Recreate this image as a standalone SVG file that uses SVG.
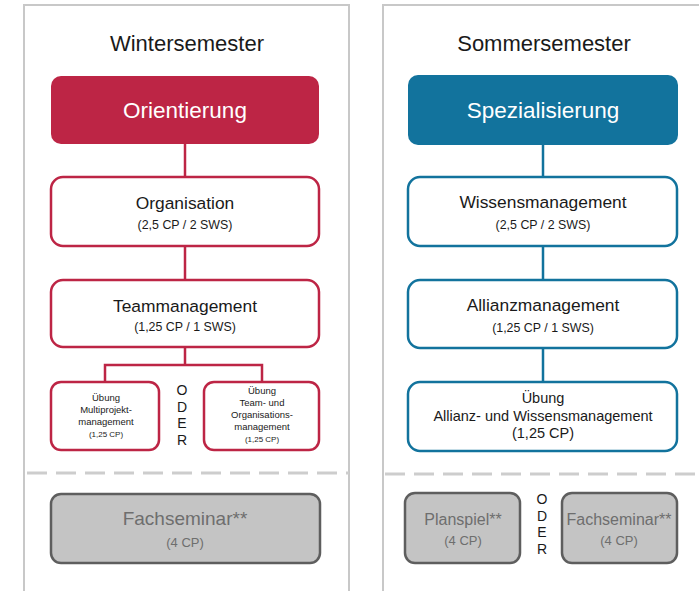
<svg xmlns="http://www.w3.org/2000/svg" width="699" height="591" viewBox="0 0 699 591">
<style>
text{font-family:"Liberation Sans",Arial,sans-serif;text-anchor:middle;fill:#1a1a1a}
.panel{fill:none;stroke:#c8c8c8;stroke-width:2}
.dash{fill:none;stroke:#cdcdcd;stroke-width:3;stroke-dasharray:20 9}
.head{font-size:22px}
.red{fill:#bd2545}
.blue{fill:#12739d}
.hd{fill:#fff;font-size:22.5px}
.rbox{fill:#fff;stroke:#bd2545;stroke-width:2.5}
.bbox{fill:#fff;stroke:#12739d;stroke-width:2.5}
.gbox{fill:#c4c4c4;stroke:#5e5e5e;stroke-width:2.5}
.t1{font-size:17.4px}
.t2{font-size:12.4px}
.sm{font-size:9.5px}
.xs{font-size:8px}
.m{font-size:14.5px}
.od{font-size:14px}
.g1{fill:#6e6e6e}
.rl{fill:none;stroke:#bd2545;stroke-width:2.5}
.bl{fill:none;stroke:#12739d;stroke-width:2.5}
</style>
<g id="panels">
<path class="panel" d="M24,591 V5 H349 V591"/>
<path class="panel" d="M383,591 V5 H699"/>
<line class="dash" x1="27" y1="473" x2="349" y2="473"/>
<line class="dash" x1="385" y1="474" x2="699" y2="474"/>
<text class="head" x="187" y="51">Wintersemester</text>
<text class="head" x="544" y="51">Sommersemester</text>
</g>
<g id="connectors">
<line class="rl" x1="185" y1="144" x2="185" y2="177"/>
<line class="rl" x1="185" y1="246" x2="185" y2="280"/>
<path class="rl" d="M185,347 V365 M105,382 V365 H262 V382"/>
<line class="bl" x1="543" y1="145" x2="543" y2="177"/>
<line class="bl" x1="543" y1="246" x2="543" y2="280"/>
<line class="bl" x1="543" y1="348" x2="543" y2="382"/>
</g>
<g id="orientierung">
<rect class="red" x="51" y="76" width="268" height="68" rx="10"/>
<text class="hd" x="185" y="118">Orientierung</text>
</g>
<g id="organisation">
<rect class="rbox" x="51" y="177" width="268" height="69" rx="12"/>
<text class="t1" x="185" y="209">Organisation</text>
<text class="t2" x="185" y="229">(2,5 CP / 2 SWS)</text>
</g>
<g id="teammanagement">
<rect class="rbox" x="51" y="280" width="268" height="67" rx="12"/>
<text class="t1" x="185" y="312">Teammanagement</text>
<text class="t2" x="185" y="331">(1,25 CP / 1 SWS)</text>
</g>
<g id="uebung-multiprojekt">
<rect class="rbox" x="51" y="382" width="108" height="68" rx="10"/>
<text class="sm" x="106" y="401">Übung</text>
<text class="sm" x="106" y="413">Multiprojekt-</text>
<text class="sm" x="106" y="425">management</text>
<text class="xs" x="106" y="437">(1,25 CP)</text>
</g>
<g id="oder-left">
<text class="od" x="182" y="395">O</text>
<text class="od" x="182" y="412">D</text>
<text class="od" x="182" y="428">E</text>
<text class="od" x="182" y="445">R</text>
</g>
<g id="uebung-team">
<rect class="rbox" x="204" y="382" width="115" height="68" rx="10"/>
<text class="sm" x="262" y="394">Übung</text>
<text class="sm" x="262" y="406">Team- und</text>
<text class="sm" x="262" y="418">Organisations-</text>
<text class="sm" x="262" y="430">management</text>
<text class="xs" x="262" y="442">(1,25 CP)</text>
</g>
<g id="fachseminar-left">
<rect class="gbox" x="51" y="494" width="269" height="69" rx="10"/>
<text class="g1" x="185" y="525" style="font-size:19px">Fachseminar**</text>
<text class="g1" x="185" y="547" style="font-size:13px">(4 CP)</text>
</g>
<g id="spezialisierung">
<rect class="blue" x="408" y="75" width="270" height="70" rx="10"/>
<text class="hd" x="543" y="118">Spezialisierung</text>
</g>
<g id="wissensmanagement">
<rect class="bbox" x="408" y="177" width="269" height="69" rx="12"/>
<text class="t1" x="543" y="208">Wissensmanagement</text>
<text class="t2" x="543" y="229">(2,5 CP / 2 SWS)</text>
</g>
<g id="allianzmanagement">
<rect class="bbox" x="408" y="280" width="269" height="68" rx="12"/>
<text class="t1" x="543" y="311">Allianzmanagement</text>
<text class="t2" x="543" y="332">(1,25 CP / 1 SWS)</text>
</g>
<g id="uebung-allianz">
<rect class="bbox" x="408" y="382" width="269" height="69" rx="12"/>
<text class="m" x="543" y="403">Übung</text>
<text class="m" x="543" y="421">Allianz- und Wissensmanagement</text>
<text class="m" x="543" y="438">(1,25 CP)</text>
</g>
<g id="planspiel">
<rect class="gbox" x="405" y="493" width="115" height="70" rx="10"/>
<text class="g1" x="463" y="525" style="font-size:16px">Planspiel**</text>
<text class="g1" x="463" y="545" style="font-size:13px">(4 CP)</text>
</g>
<g id="oder-right">
<text class="od" x="542" y="504">O</text>
<text class="od" x="542" y="521">D</text>
<text class="od" x="542" y="537">E</text>
<text class="od" x="542" y="554">R</text>
</g>
<g id="fachseminar-right">
<rect class="gbox" x="562" y="493" width="115" height="70" rx="10"/>
<text class="g1" x="619" y="525" style="font-size:16px">Fachseminar**</text>
<text class="g1" x="619" y="545" style="font-size:13px">(4 CP)</text>
</g>
</svg>
